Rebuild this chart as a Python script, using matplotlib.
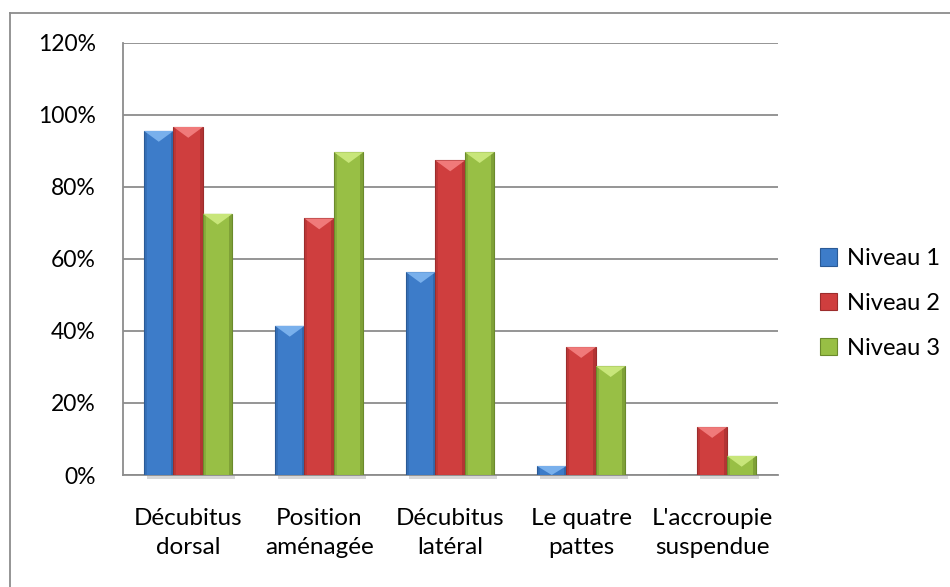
import numpy as np
import matplotlib.pyplot as plt
from matplotlib.patches import Polygon, Rectangle
from matplotlib.lines import Line2D

plt.rcParams['font.family'] = ['Lato', 'DejaVu Sans']

categories = ['Décubitus\ndorsal', 'Position\naménagée', 'Décubitus\nlatéral',
              'Le quatre\npattes', "L'accroupie\nsuspendue"]
series_names = ['Niveau 1', 'Niveau 2', 'Niveau 3']
niveau1 = [95.5, 41.4, 56.3, 2.5, 0.0]
niveau2 = [96.6, 71.2, 87.3, 35.5, 13.3]
niveau3 = [72.5, 89.6, 89.6, 30.2, 5.3]
yticks = [0, 20, 40, 60, 80, 100, 120]

colors = ['#3d7cc9', '#cf3e3e', '#98bf45']
dark = ['#2a5a96', '#9c2c2c', '#6b8a2c']
light = ['#79b0ec', '#f07a7a', '#c8e67a']

fig = plt.figure(figsize=(9.5, 5.87), dpi=100)
ax = fig.add_axes([0.1292, 0.1908, 0.6894, 0.7365])

# outer chart border (only left and top edges fall inside the picture)
bx, by = 9.5 / 950, 1 - 13 / 587
fig.lines.append(Line2D([bx, bx], [0, by], transform=fig.transFigure,
                        color='#8c8c8c', linewidth=1.3))
fig.lines.append(Line2D([bx, 1], [by, by], transform=fig.transFigure,
                        color='#8c8c8c', linewidth=1.3))

x = np.arange(len(categories))
w = 0.225
data = [niveau1, niveau2, niveau3]
handles = []
for i, vals in enumerate(data):
    bars = ax.bar(x + (i - 1) * w, vals, w, color=colors[i], edgecolor=dark[i],
                  linewidth=0.8, zorder=3, label=series_names[i])
    handles.append(bars)
    for b in bars:
        h = b.get_height()
        if h <= 0:
            continue
        x0 = b.get_x()
        bw = b.get_width()
        # dark side strips
        sw = bw * 0.1
        ax.add_patch(Rectangle((x0, 0), sw, h, color=dark[i], alpha=0.35,
                               linewidth=0, zorder=4))
        ax.add_patch(Rectangle((x0 + bw - sw, 0), sw, h, color=dark[i], alpha=0.55,
                               linewidth=0, zorder=4))
        # bevel triangle on top
        bh = min(h, 3.0)
        ax.add_patch(Polygon([(x0, h), (x0 + bw, h), (x0 + bw / 2, h - bh)],
                             closed=True, color=light[i], linewidth=0, zorder=5))
        # soft shadow
        ax.add_patch(Rectangle((x0 + 0.02, -1.2), bw, 1.2, color='#b0b0b0',
                               alpha=0.5, linewidth=0, zorder=2, clip_on=False))

ax.set_ylim(0, 120)
ax.set_xlim(-0.5, len(categories) - 0.5)
ax.set_yticks(yticks)
ax.set_yticklabels([f'{v}%' for v in yticks], fontsize=16.5)
ax.set_xticks(x)
ax.set_xticklabels(categories, fontsize=17.5, linespacing=1.45)
ax.tick_params(axis='y', length=0, pad=19.5)
ax.tick_params(axis='x', length=0, pad=24)
ax.yaxis.grid(True, color='#8c8c8c', linewidth=1.3, zorder=0)
ax.set_axisbelow(True)
for s in ['top', 'right']:
    ax.spines[s].set_visible(False)
for s in ['left', 'bottom']:
    ax.spines[s].set_color('#8c8c8c')
    ax.spines[s].set_linewidth(1.3)

leg = fig.legend(handles=handles, labels=series_names, loc='center left',
                 bbox_to_anchor=(0.8627, 0.483), frameon=False, fontsize=17,
                 handlelength=0.75, handleheight=0.75, handletextpad=0.4,
                 labelspacing=1.0, borderaxespad=0, borderpad=0)

fig.savefig('out.png', dpi=100)
